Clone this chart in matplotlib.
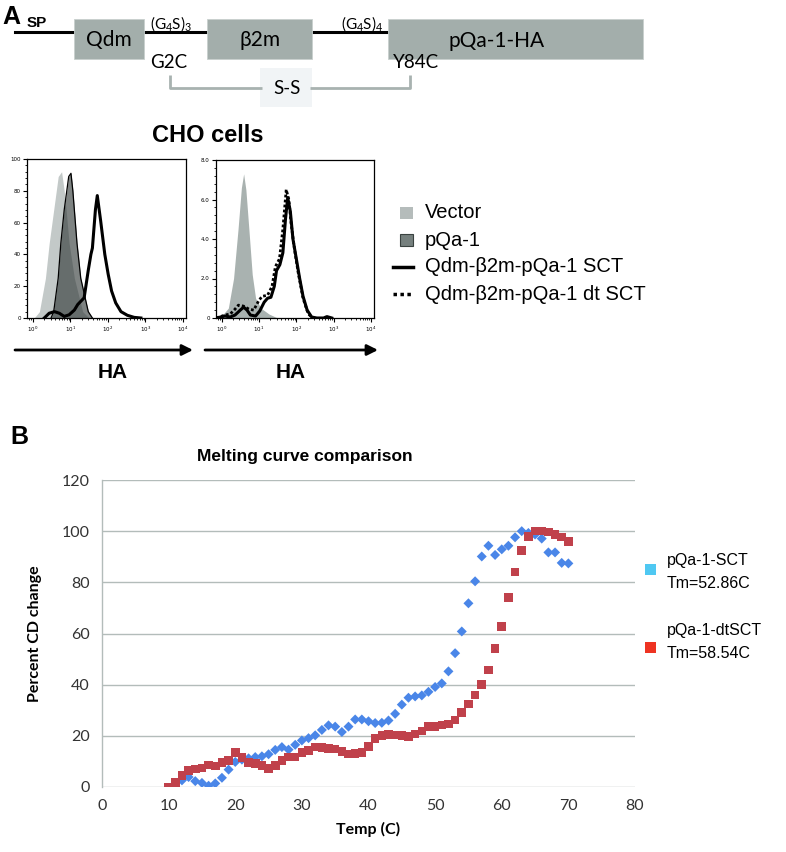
import numpy as np
import matplotlib
matplotlib.use('Agg')
import matplotlib.pyplot as plt
from matplotlib.patches import Rectangle
from matplotlib.ticker import LogLocator, NullFormatter, FixedLocator, MultipleLocator, LogFormatterSciNotation

W, H = 786, 852
plt.rcParams['mathtext.fontset'] = 'custom'
plt.rcParams['mathtext.rm'] = 'Lato'
plt.rcParams['mathtext.it'] = 'Lato:italic'
plt.rcParams['mathtext.bf'] = 'Lato:bold'

# ---------------- Data ----------------
# Panel A, left histogram (log10 HA, % of max)
h1_vector_logx = [0.04, 0.18, 0.34, 0.44, 0.56, 0.68, 0.77, 0.84, 0.89, 0.97, 1.11, 1.33, 1.50]
h1_vector_y    = [0,    4,    25,   47,   68,   89,   92,   80,   68,   47,   25,   4,    0]
h1_pqa_logx = [0.49, 0.56, 0.68, 0.75, 0.84, 0.96, 1.02, 1.07, 1.11, 1.18, 1.28, 1.48, 1.59]
h1_pqa_y    = [0,    4,    25,   47,   68,   89,   91,   80,   68,   47,   25,   4,    0]
h1_sct_logx = [0.31, 0.44, 0.58, 0.71, 0.84, 0.97, 1.11, 1.20, 1.37, 1.48, 1.55, 1.59, 1.67, 1.72,
               1.81, 1.92, 2.01, 2.10, 2.21, 2.35, 2.52, 2.70, 2.88]
h1_sct_y    = [0,    3,    4,    3,    1,    2,    5,    8.5,  12.7, 30,   40,   44,   68,   77,
               61,   40,   27.5, 17,   9.5,  4,    1.7,  0.4,  0]

# Panel A, right histogram
h2_vector_logx = [-0.14, 0.0, 0.18, 0.32, 0.44, 0.53, 0.59, 0.65, 0.73, 0.82, 0.91, 1.05, 1.27, 1.50]
h2_vector_y    = [0,     0.1, 0.5,  2.0,  4.5,  6.6,  7.3,  6.5,  4.5,  2.2,  1.0,  0.5,  0.2,  0]
h2_sct_logx = [-0.14, 0.09, 0.23, 0.36, 0.50, 0.59, 0.68, 0.77, 0.91, 1.02, 1.14, 1.23, 1.32, 1.41,
               1.47, 1.56, 1.64, 1.71, 1.77, 1.84, 1.91, 2.00, 2.09, 2.18, 2.29, 2.41, 2.55, 2.73,
               2.82, 2.95]
h2_sct_y    = [0,     0.1,  0.05, 0.15, 0.4,  0.55, 0.4,  0.15, 0.1,  0.35, 0.8,  1.0,  1.05, 1.6,
               2.4,   2.7,  3.3,  5.0,  6.1,  5.4,  4.0,  3.0,  2.0,  1.1,  0.4,  0.05, 0,    0,
               0.07,  0]
h2_dt_logx = [-0.14, 0.09, 0.23, 0.36, 0.45, 0.59, 0.73, 0.86, 1.00, 1.09, 1.23, 1.35, 1.44, 1.55,
              1.64, 1.73, 1.80, 1.86, 1.95, 2.05, 2.18, 2.32, 2.45]
h2_dt_y    = [0,     0.15, 0.2,  0.45, 0.65, 0.6,  0.45, 0.4,  0.9,  1.1,  1.15, 1.6,  2.6,  3.0,
              4.5,   6.5,  6.0,  4.8,  3.5,  2.3,  1.0,  0.2,  0]

h1_yticks = [0, 20, 40, 60, 80, 100]
h1_yticklabels = ['0', '20', '40', '60', '80', '100']
h2_yticks = [0, 2, 4, 6, 8]
h2_yticklabels = ['0', '2.0', '4.0', '6.0', '8.0']

legend_a_labels = ['Vector', 'pQa-1', 'Qdm-\u03b22m-pQa-1 SCT', 'Qdm-\u03b22m-pQa-1 dt SCT']

# Panel B, melting curves
temp_sct = list(range(12, 71))
pct_sct = [2.6, 3.9, 2.3, 1.6, 0.5, 1.4, 3.6, 6.8, 9.8, 10.7, 11.2, 11.7, 12.0, 12.8, 14.5,
           15.6, 14.6, 16.5, 18.2, 19.1, 20.2, 22.3, 24.1, 23.6, 21.5, 23.6, 26.4, 26.4, 25.7,
           25.0, 25.1, 26.0, 28.6, 32.2, 34.9, 35.4, 35.8, 37.2, 39.1, 40.5, 45.2, 52.3, 60.8,
           71.8, 80.4, 90.1, 94.3, 90.7, 92.9, 94.3, 97.6, 100.0, 99.3, 98.7, 97.1, 91.7, 91.7,
           87.6, 87.4]
temp_dt = list(range(10, 71))
pct_dt = [0.0, 1.8, 4.6, 6.4, 7.0, 7.4, 8.6, 8.2, 9.6, 10.4, 13.4, 11.6, 9.6, 9.1, 8.5, 7.3,
          8.5, 10.3, 11.8, 11.8, 13.4, 14.2, 15.6, 15.4, 15.1, 14.8, 13.8, 12.9, 13.2, 13.5,
          15.8, 18.9, 20.2, 20.6, 20.4, 20.1, 19.8, 20.8, 21.9, 23.7, 23.6, 24.3, 24.7, 26.2,
          29.2, 32.4, 35.9, 40.1, 45.7, 54.2, 62.8, 74.1, 84.0, 92.4, 98.0, 100.0, 100.0, 99.6,
          98.8, 97.8, 95.9]
b_xticks = [0, 10, 20, 30, 40, 50, 60, 70, 80]
b_yticks = [0, 20, 40, 60, 80, 100, 120]
b_legend = [('pQa-1-SCT', 'Tm=52.86C'), ('pQa-1-dtSCT', 'Tm=58.54C')]

# ---------------- Figure ----------------
fig = plt.figure(figsize=(W / 100, H / 100), dpi=100)

def axes_px(l, t, r, b):
    return fig.add_axes([l / W, 1 - b / H, (r - l) / W, (b - t) / H])

ov = fig.add_axes([0, 0, 1, 1])
ov.set_xlim(0, W)
ov.set_ylim(H, 0)
ov.axis('off')
ov.patch.set_alpha(0)

# ---- schematic ----
box_col = '#a3aeab'
ov.plot([15, 390], [32, 32], color='black', lw=2.2, zorder=1)
for (x0, x1) in [(74, 144), (207, 312), (388, 643)]:
    ov.add_patch(Rectangle((x0, 19), x1 - x0, 40, facecolor=box_col, edgecolor='#c8d0ce', lw=0.6, zorder=2))
sfont = 'Lato'
ov.text(109, 40, 'Qdm', fontsize=15, family=sfont, ha='center', va='center', zorder=3)
ov.text(260, 40, '\u03b22m', fontsize=15, family=sfont, ha='center', va='center', zorder=3)
ov.text(448, 41, 'pQa-1-HA', fontsize=15, family=sfont, ha='left', va='center', zorder=3)
ov.text(171, 24, r'(G$\mathregular{_4}$S)$\mathregular{_3}$', fontsize=11, family=sfont, ha='center', va='center')
ov.text(362, 24, r'(G$\mathregular{_4}$S)$\mathregular{_4}$', fontsize=11, family=sfont, ha='center', va='center')
ov.text(169, 62, 'G2C', fontsize=13.5, family=sfont, ha='center', va='center')
ov.text(416, 62, 'Y84C', fontsize=13.5, family=sfont, ha='center', va='center')
ov.text(27, 27, 'SP', fontsize=11, family='Liberation Sans', weight='bold', ha='left', va='baseline')
ov.text(2, 24, 'A', fontsize=18, family='Liberation Sans', weight='bold', ha='left', va='baseline')
brk = '#a8b2b0'
ov.plot([170, 170, 262], [75, 88, 88], color=brk, lw=2, solid_capstyle='butt')
ov.plot([310, 410, 410], [88, 88, 75], color=brk, lw=2, solid_capstyle='butt')
ov.add_patch(Rectangle((260, 68), 52, 39, facecolor='#f1f4f6', edgecolor='none'))
ov.text(287, 88, 'S-S', fontsize=13.5, family=sfont, ha='center', va='center')

# ---- CHO cells ----
ov.text(208, 135, 'CHO cells', fontsize=17, family='Liberation Sans', weight='bold', ha='center', va='center')
for (x0, x1, xc) in [(15, 193, 113), (205, 378, 291)]:
    ov.annotate('', xy=(x1, 350), xytext=(x0, 350),
                arrowprops=dict(arrowstyle='-|>', color='black', lw=2, mutation_scale=16, shrinkA=0, shrinkB=0))
    ov.text(xc, 373, 'HA', fontsize=15, family='Liberation Sans', weight='bold', ha='center', va='center')

def style_hist(ax, yticks, ylabels, ymax):
    ax.set_xscale('log')
    ax.set_xlim(10 ** -0.15, 10 ** 4.08)
    ax.set_ylim(0, ymax)
    ax.set_yticks(yticks)
    ax.set_yticklabels(ylabels)
    ax.yaxis.set_minor_locator(MultipleLocator(yticks[1] / 5))
    ax.xaxis.set_major_locator(LogLocator(base=10, numticks=10))
    ax.xaxis.set_minor_locator(LogLocator(base=10, subs=np.arange(2, 10), numticks=10))
    ax.xaxis.set_minor_formatter(NullFormatter())
    ax.xaxis.set_major_formatter(LogFormatterSciNotation())
    ax.tick_params(axis='both', which='major', labelsize=4, length=3, width=0.8, pad=1.5, direction='out')
    ax.tick_params(axis='both', which='minor', length=1.6, width=0.6, direction='out')
    for s in ax.spines.values():
        s.set_linewidth(0.9)
    ax.set_facecolor('white')

ax1 = axes_px(27, 159, 186, 318)
x = 10 ** np.array(h1_vector_logx)
ax1.fill_between(x, h1_vector_y, color='#c3c9c8', lw=0)
x = 10 ** np.array(h1_pqa_logx)
ax1.fill_between(x, h1_pqa_y, color='#28302f', alpha=0.6, lw=0)
ax1.plot(x, h1_pqa_y, color='black', lw=0.9)
ax1.plot(10 ** np.array(h1_sct_logx), h1_sct_y, color='black', lw=2.2, solid_joinstyle='round')
style_hist(ax1, h1_yticks, h1_yticklabels, 100)

ax2 = axes_px(216, 160, 374, 318)
ax2.fill_between(10 ** np.array(h2_vector_logx), h2_vector_y, color='#a9b2b0', lw=0)
ax2.plot(10 ** np.array(h2_dt_logx), h2_dt_y, color='black', lw=2.0, ls=(0, (1, 0.8)))
ax2.plot(10 ** np.array(h2_sct_logx), h2_sct_y, color='black', lw=2.2, solid_joinstyle='round')
style_hist(ax2, h2_yticks, h2_yticklabels, 8)

# legend A
ly = [213, 240, 267, 294]
ov.add_patch(Rectangle((400, ly[0] - 6), 13, 12, facecolor='#b5bcbb', edgecolor='none'))
ov.add_patch(Rectangle((400, ly[1] - 6), 13, 12, facecolor='#76807e', edgecolor='#3a4240', lw=0.8))
ov.plot([393, 413], [ly[2], ly[2]], color='black', lw=2.5)
ov.plot([393, 413], [ly[3], ly[3]], color='black', lw=2.5, ls=(0, (1, 1)))
for yy, lab in zip(ly, legend_a_labels):
    ov.text(425, yy, lab, fontsize=14.5, family='Liberation Sans', ha='left', va='center')

# ---- Panel B ----
ov.text(10, 437, 'B', fontsize=18, family='Liberation Sans', weight='bold', ha='left', va='center')
axb = axes_px(102, 480, 635, 787)
axb.scatter(temp_sct, pct_sct, marker='D', s=26, color='#4a86e8', edgecolors='none', zorder=3)
axb.scatter(temp_dt, pct_dt, marker='s', s=38, color='#c0414b', edgecolors='none', zorder=3)
axb.set_xlim(0, 80)
axb.set_ylim(0, 120)
axb.set_xticks(b_xticks)
axb.set_yticks(b_yticks)
axb.grid(axis='y', color='#b3bcba', lw=1)
axb.set_axisbelow(True)
for s in ['top', 'right', 'bottom']:
    axb.spines[s].set_visible(False)
axb.spines['left'].set_color('#b3bcba')
axb.spines['left'].set_linewidth(1)
axb.tick_params(length=0, labelsize=11.5, labelcolor='#333333', pad=9)
for lab in axb.get_xticklabels() + axb.get_yticklabels():
    lab.set_family('Lato')
axb.set_xlabel('Temp (C)', fontsize=11.5, family='Lato', weight='bold', labelpad=6)
axb.set_ylabel('Percent CD change', fontsize=11.5, family='Lato', weight='bold', labelpad=14)
axb.set_title('Melting curve comparison', fontsize=12.5, family='Liberation Sans', weight='bold', pad=14, x=0.38)

ov.add_patch(Rectangle((645, 564), 11, 11, facecolor='#4fc8f2', edgecolor='none'))
ov.add_patch(Rectangle((645, 642), 11, 11, facecolor='#ee3322', edgecolor='none'))
for (l1, l2), y0 in zip(b_legend, [560, 630]):
    ov.text(667, y0, l1, fontsize=11.5, family='Liberation Sans', ha='left', va='center')
    ov.text(667, y0 + 23, l2, fontsize=11.5, family='Liberation Sans', ha='left', va='center')

fig.savefig('out.png', dpi=100)
